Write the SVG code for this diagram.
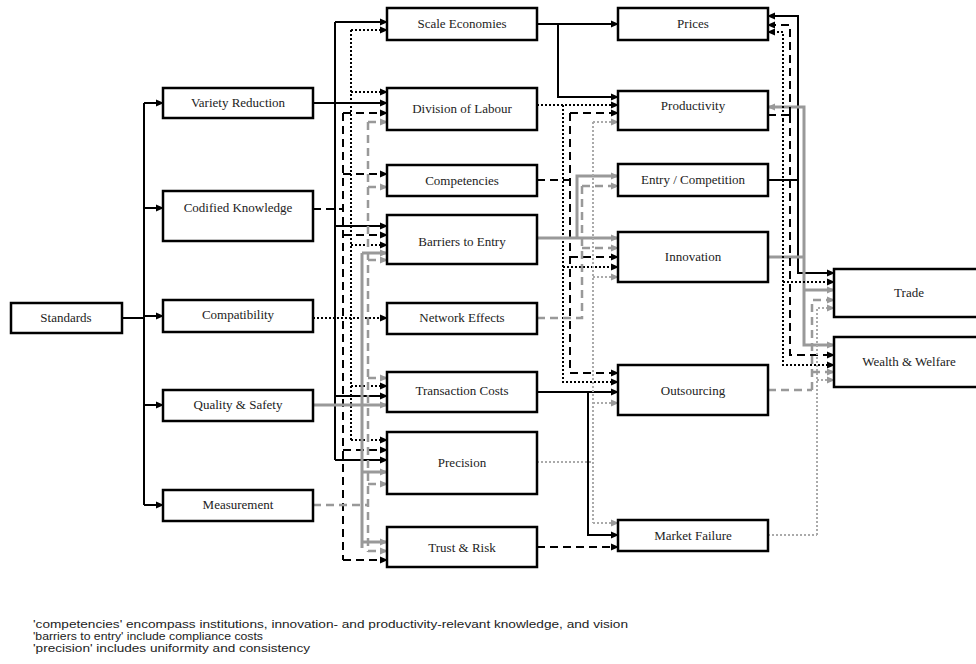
<svg xmlns="http://www.w3.org/2000/svg" width="976" height="664" viewBox="0 0 976 664">
<defs>
<marker id="ab" markerWidth="8" markerHeight="8" refX="7" refY="4" orient="auto" markerUnits="userSpaceOnUse"><polygon points="0,0.5 8,4 0,7.5" fill="#000"/></marker>
<marker id="ag" markerWidth="8" markerHeight="8" refX="7" refY="4" orient="auto" markerUnits="userSpaceOnUse"><polygon points="0,0.5 8,4 0,7.5" fill="#999"/></marker>
<style>
.box{fill:#fff;stroke:#000;stroke-width:2.5}
.lbl{font-family:"Liberation Serif","Times New Roman",serif;font-size:13px;fill:#222;text-anchor:middle}
.note{font-family:"Liberation Sans",Arial,sans-serif;font-size:10px;fill:#222}
#connectors path{fill:none}
.s{stroke:#000;stroke-width:2}
.d{stroke:#000;stroke-width:2;stroke-dasharray:2 2}
.k{stroke:#000;stroke-width:2;stroke-dasharray:8 5}
.g{stroke:#999;stroke-width:3}
.gk{stroke:#999;stroke-width:2.5;stroke-dasharray:8 5}
.gd{stroke:#aaa;stroke-width:2;stroke-dasharray:2 2}
.ab{marker-end:url(#ab)}
.ag{marker-end:url(#ag)}
</style>
</defs>

<g id="connectors">
<!-- Standards trunk -->
<path class="s" d="M122 318 H144" stroke-width="3.5"/>
<path class="s" d="M144 103 V505" stroke-width="2.5"/>
<path class="s ab" d="M144 103 H163"/>
<path class="s ab" d="M144 208 H163"/>
<path class="s ab" d="M144 316 H163"/>
<path class="s ab" d="M144 405 H163"/>
<path class="s ab" d="M144 505 H163"/>

<!-- Variety Reduction (solid) -->
<path class="s ab" d="M313 103 H387"/>
<path class="s" d="M335 22 V460"/>
<path class="s ab" d="M335 22 H387"/>
<path class="s ab" d="M335 226 H387"/>
<path class="s ab" d="M335 396 H387"/>
<path class="s ab" d="M335 460 H387"/>

<!-- Codified Knowledge (dashed) -->
<path class="k" d="M313 209 H343"/>
<path class="k" d="M343 113 V560"/>
<path class="k ab" d="M343 113 H387"/>
<path class="k ab" d="M343 174 H387"/>
<path class="k ab" d="M343 235 H387"/>
<path class="k ab" d="M343 450 H387"/>
<path class="k ab" d="M343 560 H387"/>

<!-- Compatibility (dotted) -->
<path class="d ab" d="M313 318 H387"/>
<path class="d" d="M351 30 V440"/>
<path class="d ab" d="M351 30 H387"/>
<path class="d ab" d="M351 92 H387"/>
<path class="d ab" d="M351 245 H387"/>
<path class="d ab" d="M351 386 H387"/>
<path class="d ab" d="M351 440 H387"/>

<!-- Quality & Safety (gray solid) -->
<path class="g ag" d="M313 405 H387"/>
<path class="g" d="M362 253 V548" stroke-width="4"/>
<path class="g ag" d="M362 253 H387"/>
<path class="g ag" d="M362 472 H387"/>
<path class="g ag" d="M362 542 H387"/>

<!-- Measurement (gray dashed) -->
<path class="gk" d="M313 505 H368"/>
<path class="gk" d="M368 122 V552"/>
<path class="gk ag" d="M368 122 H387"/>
<path class="gk ag" d="M368 187 H387"/>
<path class="gk ag" d="M368 260 H387"/>
<path class="gk ag" d="M368 378 H387"/>
<path class="gk ag" d="M368 484 H387"/>
<path class="gk ag" d="M368 551 H387"/>

<!-- Scale Economies (solid) -->
<path class="s ab" d="M537 24 H618"/>
<path class="s ab" d="M558 24 V97 H618"/>

<!-- Division of Labour (dotted) -->
<path class="d ab" d="M537 105 H618"/>
<path class="d ab" d="M563 105 V382 H618"/>
<path class="d ab" d="M563 267 H618"/>

<!-- Competencies (dashed) -->
<path class="k" d="M537 180 H570"/>
<path class="k" d="M570 113 V373"/>
<path class="k ab" d="M570 113 H618"/>
<path class="k ab" d="M570 257 H618"/>
<path class="k ab" d="M570 373 H618"/>

<!-- Barriers to Entry (gray solid) -->
<path class="g ag" d="M537 238 H618"/>
<path class="g ag" d="M577 238 V176 H618" stroke-width="4"/>

<!-- Network Effects (gray dashed) -->
<path class="gk" d="M537 318 H582 V186"/>
<path class="gk ag" d="M582 186 H618"/>
<path class="gk ag" d="M582 248 H618"/>

<!-- Transaction Costs (solid) -->
<path class="s ab" d="M537 392 H618"/>
<path class="s ab" d="M588 392 V535 H618"/>

<!-- Precision (gray dotted) -->
<path class="gd" d="M537 462 H593"/>
<path class="gd" d="M593 122 V523"/>
<path class="gd ag" d="M593 122 H618"/>
<path class="gd ag" d="M593 277 H618"/>
<path class="gd ag" d="M593 403 H618"/>
<path class="gd ag" d="M593 523 H618"/>

<!-- Trust & Risk (dashed) -->
<path class="k ab" d="M537 547 H618"/>

<!-- Entry / Competition (solid) -->
<path class="s" d="M768 180 H798"/>
<path class="s ab" d="M798 180 V16 H768"/>
<path class="s ab" d="M798 180 V273 H834"/>

<!-- Innovation (gray solid) -->
<path class="g" d="M768 257 H804"/>
<path class="g ag" d="M804 257 V107 H768"/>
<path class="g ag" d="M804 257 V345 H834"/>
<path class="g ag" d="M804 290 H834"/>

<!-- black dashed / dotted right verticals -->
<path class="k" d="M768 115 H790"/>
<path class="k ab" d="M790 115 V25 H768"/>
<path class="k ab" d="M790 115 V355 H834"/>
<path class="d ab" d="M783 120 V32 H768"/>
<path class="d ab" d="M783 120 V365 H834"/>
<path class="d ab" d="M783 282 H834"/>

<!-- Outsourcing (gray dashed) -->
<path class="gk" d="M768 390 H812"/>
<path class="gk ag" d="M812 390 V300 H834"/>
<path class="gk ag" d="M812 372 H834"/>

<!-- Market Failure (gray dotted) -->
<path class="gd" d="M768 535 H817"/>
<path class="gd ag" d="M817 535 V308 H834"/>
<path class="gd ag" d="M817 380 H834"/>
</g>

<g id="standards"><rect class="box" x="11" y="303" width="111" height="30"/><text class="lbl" x="66" y="322">Standards</text></g>

<g id="variety"><rect class="box" x="163" y="88" width="150" height="30"/><text class="lbl" x="238" y="107">Variety Reduction</text></g>
<g id="codified"><rect class="box" x="163" y="191" width="150" height="50"/><text class="lbl" x="238" y="212">Codified Knowledge</text></g>
<g id="compatibility"><rect class="box" x="163" y="300" width="150" height="32"/><text class="lbl" x="238" y="319">Compatibility</text></g>
<g id="quality"><rect class="box" x="163" y="390" width="150" height="31"/><text class="lbl" x="238" y="409">Quality &amp; Safety</text></g>
<g id="measurement"><rect class="box" x="163" y="490" width="150" height="31"/><text class="lbl" x="238" y="509">Measurement</text></g>

<g id="scale"><rect class="box" x="387" y="8" width="150" height="32"/><text class="lbl" x="462" y="28">Scale Economies</text></g>
<g id="division"><rect class="box" x="387" y="88" width="150" height="42"/><text class="lbl" x="462" y="113">Division of Labour</text></g>
<g id="competencies"><rect class="box" x="387" y="165" width="150" height="31"/><text class="lbl" x="462" y="185">Competencies</text></g>
<g id="barriers"><rect class="box" x="387" y="215" width="150" height="49"/><text class="lbl" x="462" y="246">Barriers to Entry</text></g>
<g id="network"><rect class="box" x="387" y="303" width="150" height="31"/><text class="lbl" x="462" y="322">Network Effects</text></g>
<g id="transaction"><rect class="box" x="387" y="372" width="150" height="40"/><text class="lbl" x="462" y="395">Transaction Costs</text></g>
<g id="precision"><rect class="box" x="387" y="432" width="150" height="62"/><text class="lbl" x="462" y="467">Precision</text></g>
<g id="trust"><rect class="box" x="387" y="527" width="150" height="40"/><text class="lbl" x="462" y="552">Trust &amp; Risk</text></g>

<g id="prices"><rect class="box" x="618" y="8" width="150" height="32"/><text class="lbl" x="693" y="28">Prices</text></g>
<g id="productivity"><rect class="box" x="618" y="91" width="150" height="39"/><text class="lbl" x="693" y="110">Productivity</text></g>
<g id="entry"><rect class="box" x="618" y="164" width="150" height="32"/><text class="lbl" x="693" y="184">Entry / Competition</text></g>
<g id="innovation"><rect class="box" x="618" y="232" width="150" height="50"/><text class="lbl" x="693" y="261">Innovation</text></g>
<g id="outsourcing"><rect class="box" x="618" y="365" width="150" height="50"/><text class="lbl" x="693" y="395">Outsourcing</text></g>
<g id="marketfailure"><rect class="box" x="618" y="520" width="150" height="31"/><text class="lbl" x="693" y="540">Market Failure</text></g>

<g id="trade"><rect class="box" x="834" y="269" width="150" height="48"/><text class="lbl" x="909" y="297">Trade</text></g>
<g id="wealth"><rect class="box" x="834" y="337" width="150" height="50"/><text class="lbl" x="909" y="366">Wealth &amp; Welfare</text></g>

<g id="notes">
<text class="note" x="33" y="628" textLength="595" lengthAdjust="spacingAndGlyphs">'competencies' encompass institutions, innovation- and productivity-relevant knowledge, and vision</text>
<text class="note" x="33" y="640" textLength="230" lengthAdjust="spacingAndGlyphs">'barriers to entry' include compliance costs</text>
<text class="note" x="33" y="652" textLength="277" lengthAdjust="spacingAndGlyphs">'precision' includes uniformity and consistency</text>
</g>
</svg>
